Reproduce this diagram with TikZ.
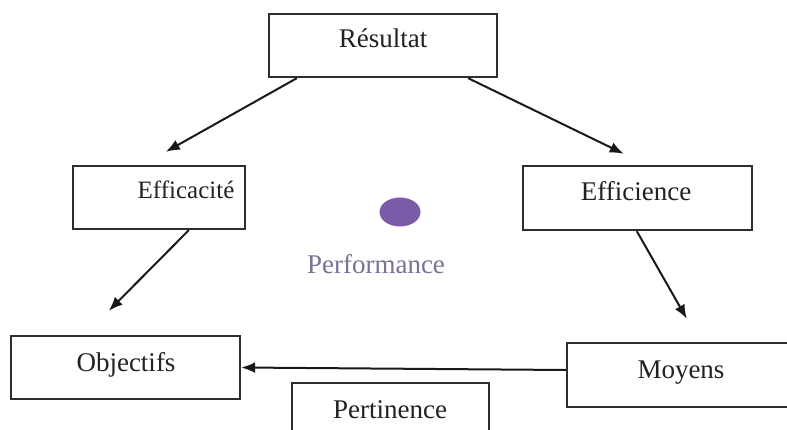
\documentclass[tikz,border=0pt]{standalone}
\usepackage{fontspec}
\setmainfont{Liberation Serif}
\usetikzlibrary{arrows.meta,shapes.geometric}
\definecolor{boxline}{HTML}{2E2E2E}
\definecolor{txtcol}{HTML}{222222}
\definecolor{perfdot}{HTML}{7B5AA8}
\definecolor{perftxt}{HTML}{7D7098}
\tikzset{
  box/.style={draw=boxline, line width=2.4pt, rectangle, inner sep=0pt},
  txt/.style={text=txtcol, inner sep=0pt, anchor=base, font=\fontsize{27}{30}\selectfont},
  arr/.style={draw=black!90, line width=2pt, -{Latex[length=14pt,width=11pt]}}
}
\begin{document}
\begin{tikzpicture}[x=1pt,y=-1pt]
\useasboundingbox (0,0) rectangle (787,430);
\fill[white] (0,0) rectangle (787,430);
\begin{scope}
\clip (0,0) rectangle (787,430);
% boxes
\node[box, minimum width=228pt, minimum height=63pt] (res) at (383,45.5) {};
\node[box, minimum width=172pt, minimum height=63pt] (eff) at (159,197.5) {};
\node[box, minimum width=229pt, minimum height=64pt] (efi) at (637.5,198) {};
\node[box, minimum width=229pt, minimum height=63pt] (obj) at (125.5,367.5) {};
\node[box, minimum width=240pt, minimum height=64pt] (moy) at (687,375) {};
\node[box, minimum width=197pt, minimum height=60pt] (per) at (390.5,413) {};
% texts
\node[txt] (rest) at (383,48) {Résultat};
\node[txt, font=\fontsize{25}{28}\selectfont] (efft) at (186,199) {Efficacité};
\node[txt] (efit) at (636,201) {Efficience};
\node[txt] (objt) at (126,371) {Objectifs};
\node[txt] (moyt) at (681,378) {Moyens};
\node[txt] (pert) at (390,418) {Pertinence};
% performance
\node[ellipse, fill=perfdot, minimum width=41pt, minimum height=29pt, inner sep=0pt] (dot) at (400,212) {};
\node[txt, text=perftxt] (perft) at (376,274) {Performance};
% connectors
\draw[arr] ([xshift=29pt]res.south west) -- ([xshift=94pt,yshift=13pt]eff.north west);
\draw[arr] ([xshift=-30pt]res.south east) -- ([xshift=102pt,yshift=11pt]efi.north west);
\draw[arr] ([xshift=117pt]eff.south west) -- ([xshift=99pt,yshift=24pt]obj.north west);
\draw[arr] ([xshift=115pt]efi.south west) -- ([xshift=121pt,yshift=23pt]moy.north west);
\draw[arr] ([yshift=5pt]moy.west) -- (obj.east);
\end{scope}
\end{tikzpicture}
\end{document}
